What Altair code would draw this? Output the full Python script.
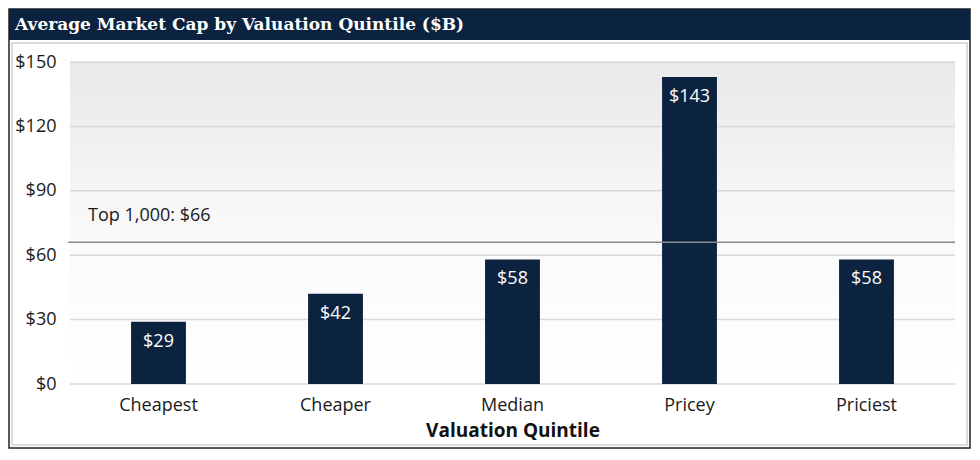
import altair as alt
import pandas as pd

categories = ["Cheapest", "Cheaper", "Median", "Pricey", "Priciest"]
values = [29, 42, 58, 143, 58]
value_labels = ["$29", "$42", "$58", "$143", "$58"]
y_ticks = [0, 30, 60, 90, 120, 150]
benchmark_value = 66
benchmark_label = "Top 1,000: $66"
title_text = "Average Market Cap by Valuation Quintile ($B)"
x_title = "Valuation Quintile"

NAVY = "#0c2340"
W, H = 885, 322
SANS = "Open Sans"

df = pd.DataFrame({"quintile": categories, "value": values, "label": value_labels})
ticks_df = pd.DataFrame({"tick": y_ticks})
one = alt.Data(values=[{}])

yscale = alt.Scale(domain=[0, 150], nice=False)
xscale = alt.Scale(paddingInner=0.69, paddingOuter=0.345)
yaxis = alt.Axis(values=y_ticks, format="$.0f", grid=False, domain=False,
                 ticks=False, title=None, labelFont=SANS, labelFontSize=18,
                 labelColor="#1a1a1a", labelPadding=14)

# frame decorations
outer = alt.Chart(one).mark_rect(fill=None, stroke="#222222", strokeWidth=1.5).encode(
    x=alt.value(-61), x2=alt.value(900), y=alt.value(-53), y2=alt.value(386))
titlebar = alt.Chart(one).mark_rect(fill=NAVY).encode(
    x=alt.value(-61), x2=alt.value(900), y=alt.value(-53), y2=alt.value(-22))
inner = alt.Chart(one).mark_rect(fill=None, stroke="#cfcfcf", strokeWidth=1.5).encode(
    x=alt.value(-58), x2=alt.value(897), y=alt.value(-19), y2=alt.value(383))
title = alt.Chart(one).mark_text(align="left", baseline="middle", font="DejaVu Serif",
                                 fontWeight="bold", fontSize=17, color="white").encode(
    x=alt.value(-55), y=alt.value(-37), text=alt.value(title_text))

grad = alt.Chart(one).mark_rect(fill={
    "gradient": "linear", "x1": 0, "x2": 0, "y1": 0, "y2": 1,
    "stops": [{"offset": 0, "color": "#e9e9e9"}, {"offset": 0.6, "color": "#fbfbfb"},
              {"offset": 1, "color": "#ffffff"}]}).encode(
    x=alt.value(0), x2=alt.value(W), y=alt.value(0), y2=alt.value(H))

grid = alt.Chart(ticks_df).mark_rule(color="#d9d9d9", strokeWidth=1.5).encode(
    y=alt.Y("tick:Q", scale=yscale, axis=yaxis), x=alt.value(0), x2=alt.value(W))

bars = alt.Chart(df).mark_bar(color=NAVY).encode(
    x=alt.X("quintile:N", sort=categories, scale=xscale,
            axis=alt.Axis(title=x_title, labelAngle=0, domain=False, ticks=False,
                          labelFont=SANS, labelFontSize=18, labelColor="#1a1a1a",
                          labelPadding=12, titleFont=SANS, titleFontSize=19,
                          titleFontWeight="bold", titleColor="#111111", titlePadding=7)),
    y=alt.Y("value:Q", scale=yscale, axis=yaxis))

bar_text = alt.Chart(df).mark_text(baseline="middle", dy=20, color="white",
                                   font=SANS, fontSize=18).encode(
    x=alt.X("quintile:N", sort=categories, scale=xscale),
    y=alt.Y("value:Q", scale=yscale), text="label:N")

ref = alt.Chart(one).mark_rule(color="#8a8a8a", strokeWidth=1.5).encode(
    y=alt.datum(benchmark_value), x=alt.value(-2), x2=alt.value(W))
ref_text = alt.Chart(one).mark_text(align="left", baseline="middle", dy=-26,
                                    font=SANS, fontSize=18, color="#1a1a1a").encode(
    y=alt.datum(benchmark_value), x=alt.value(18), text=alt.value(benchmark_label))

chart = alt.layer(outer, titlebar, inner, title, grad, grid, bars, bar_text, ref, ref_text).properties(
    width=W, height=H, autosize="none",
    padding={"left": 62, "top": 54, "right": 17, "bottom": 66},
    background="white",
).configure_view(stroke=None).configure_axis(zindex=1)

chart.save("out.html", embed_options={"renderer": "svg", "actions": False})
